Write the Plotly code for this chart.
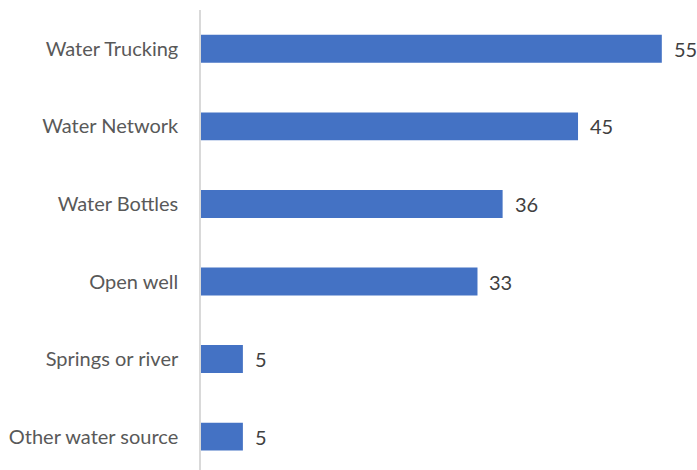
import plotly.graph_objects as go

# Main water sources (number of responses)
sources = ["Water Trucking", "Water Network", "Water Bottles",
           "Open well", "Springs or river", "Other water source"]
counts = [55, 45, 36, 33, 5, 5]

positions = list(range(len(sources)))
font_family = "Lato, Open Sans, sans-serif"

fig = go.Figure(go.Bar(
    x=counts,
    y=positions,
    orientation="h",
    marker=dict(color="#4472C4", line=dict(width=0)),
    width=0.36,
))

# Value labels placed just past the end of each bar
for pos, val in zip(positions, counts):
    fig.add_annotation(
        x=val, y=pos, text=str(val),
        xanchor="left", yanchor="middle", xshift=10, showarrow=False,
        font=dict(family=font_family, size=20, color="#404040"),
    )

fig.update_layout(
    width=697,
    height=470,
    margin=dict(l=201, r=0, t=10, b=0),
    paper_bgcolor="white",
    plot_bgcolor="white",
    showlegend=False,
    xaxis=dict(range=[0, 59.2], visible=False),
    yaxis=dict(
        tickmode="array",
        tickvals=positions,
        ticktext=sources,
        range=[5.43, -0.5],
        showgrid=False,
        zeroline=False,
        showline=True,
        linecolor="#d9d9d9",
        linewidth=1.5,
        ticks="",
        ticklabelstandoff=17,
        tickfont=dict(family=font_family, size=20, color="#595959"),
    ),
)

fig.write_html("out.html")
